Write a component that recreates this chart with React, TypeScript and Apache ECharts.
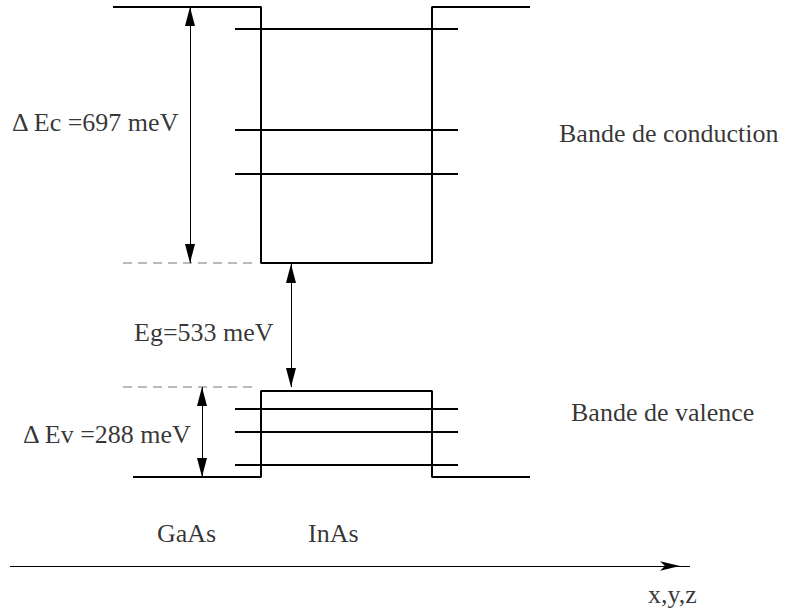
import React, { useEffect, useRef } from "react";
import * as echarts from "echarts";

// Schematic band diagram (units: drawing units, y grows downward)
const conductionBand: number[][] = [[113, 7], [261, 7], [261, 263], [432, 263], [432, 7], [530, 7]];
const valenceBand: number[][] = [[133, 477], [261, 477], [261, 391], [432, 391], [432, 477], [530, 477]];
const levelRange = [235, 458];
const conductionLevels = [29, 130, 174];
const valenceLevels = [409, 432, 465];
const dashedRange = [123, 258];
const dashedLevels = [263, 387];
const arrowX = [190, 291, 202];
const arrowFrom = [7, 264, 387];
const arrowTo = [263, 387, 477];
const axisStart = [10, 566];
const axisEnd = [690, 566];

const labelTexts = [
  "\u0394 Ec =697 meV",
  "Eg=533 meV",
  "\u0394 Ev =288 meV",
  "Bande de conduction",
  "Bande de valence",
  "GaAs",
  "InAs",
  "x,y,z",
];

const labelPos = [
  [12, 122],
  [134, 332],
  [23, 434],
  [559, 133],
  [571, 412],
  [157, 533],
  [308, 533],
  [648, 594],
];

export default function App() {
  const ref = useRef<HTMLDivElement>(null);
  useEffect(() => {
    document.body.style.margin = "0";
    const chart = echarts.init(ref.current!, undefined, { renderer: "svg" });
    const solid = (data: number[][], width = 2) => ({
      type: "line",
      data,
      symbol: "none",
      lineStyle: { color: "#000", width, type: "solid" },
    });
    const series: any[] = [];
    series.push({
      type: "scatter",
      symbolSize: 0,
      data: labelTexts.map((t, i) => ({
        name: t,
        value: labelPos[i],
        label: { fontFamily: "Liberation Serif" },
      })),
      label: {
        show: true,
        position: "right",
        distance: 0,
        formatter: "{b}",
        color: "#000",
        fontSize: 26,
        fontFamily: "Liberation Serif",
      },
    });
    series.push(solid(conductionBand));
    series.push(solid(valenceBand));
    conductionLevels.forEach((y) => series.push(solid([[levelRange[0], y], [levelRange[1], y]])));
    valenceLevels.forEach((y) => series.push(solid([[levelRange[0], y], [levelRange[1], y]])));
    dashedLevels.forEach((y) =>
      series.push({
        type: "line",
        data: [[dashedRange[0], y], [dashedRange[1], y]],
        symbol: "none",
        lineStyle: { color: "#777", width: 1.2, type: [9, 6] },
      })
    );
    const end = (coord: number[], symbol: string, size: number[], offset: number[]) => ({
      coord,
      symbol,
      symbolSize: size,
      symbolOffset: offset,
      itemStyle: { color: "#000" },
    });
    series.push({
      type: "line",
      data: [],
      symbol: "none",
      itemStyle: { color: "#000" },
      markLine: {
        silent: true,
        symbol: ["triangle", "triangle"],
        label: { show: false },
        lineStyle: { color: "#000", width: 1, type: "solid" },
        data: arrowX.map((x, i) => [
          end([x, arrowFrom[i]], "triangle", [10, 19], [0, 9.5]),
          end([x, arrowTo[i]], "triangle", [10, 19], [0, 9.5]),
        ]),
      },
    });
    series.push({
      type: "line",
      data: [],
      symbol: "none",
      itemStyle: { color: "#000" },
      markLine: {
        silent: true,
        symbol: ["none", "arrow"],
        label: { show: false },
        lineStyle: { color: "#000", width: 1.2, type: "solid" },
        data: [[end(axisStart, "none", [0, 0], [0, 0]), end(axisEnd, "arrow", [7, 20], [0, 10])]],
      },
    });

    chart.setOption({
      animation: false,
      textStyle: { fontFamily: "Liberation Serif" },
      grid: { left: 0, right: 0, top: 0, bottom: 0 },
      xAxis: { type: "value", min: 0, max: 787, show: false },
      yAxis: { type: "value", min: 0, max: 609, inverse: true, show: false },
      series,
    });
    return () => chart.dispose();
  }, []);
  return <div ref={ref} style={{ width: 787, height: 609 }} />;
}
